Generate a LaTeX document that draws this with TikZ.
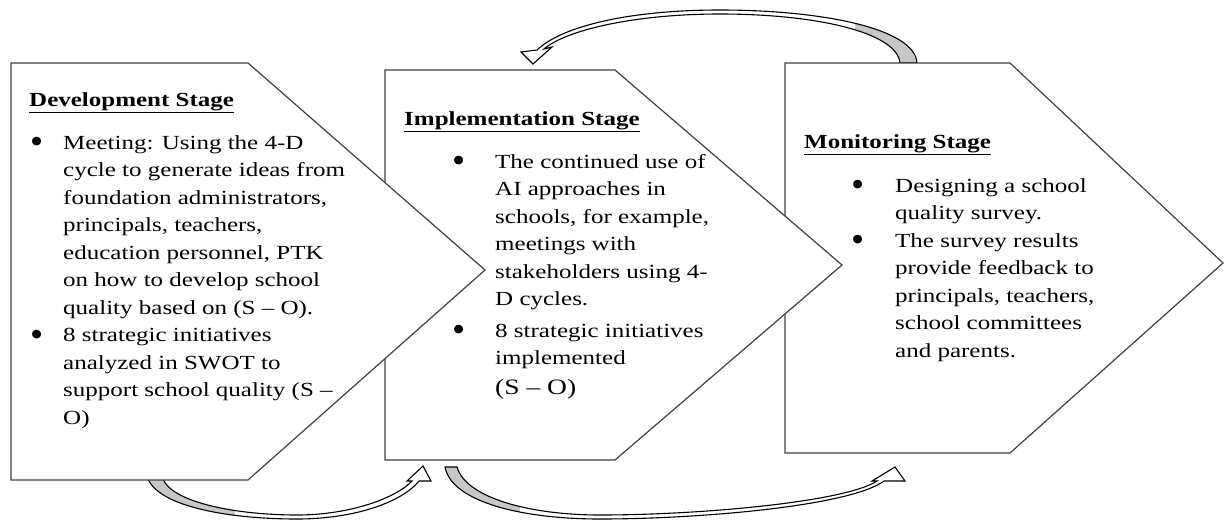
\documentclass[tikz,border=0pt]{standalone}
\usepackage{fontspec}
\setmainfont{Liberation Serif}[FakeStretch=1.25]
\newcommand{\stagedot}{\raisebox{-4.5pt}{\scalebox{1.5}[1.8]{\textbullet}}}

\begin{document}
\begin{tikzpicture}[x=1pt,y=-1pt,
  stage/.style={draw=black!75, line width=1.2pt, fill=white},
  band/.style={draw=black, line width=1.1pt},
  title/.style={anchor=base west, inner sep=0pt, font=\fontsize{20}{27.5}\selectfont\bfseries},
  list/.style={anchor=base west, inner sep=0pt, font=\fontsize{20}{27.5}\selectfont}]
 \useasboundingbox (0,0) rectangle (1225,520);

 % curved arrows: development -> implementation -> monitoring, and back
 \path[save path=\arrowdev] (148,479) .. controls (160,507) and (230,519) .. (297,519)
   .. controls (355,519) and (402,502) .. (419,481) -- (431,481) -- (423,466) -- (407,481) -- (412,481)
   .. controls (396,498) and (350,515) .. (297,515) .. controls (235,515) and (172,502) .. (163,479) -- cycle;
 \path[save path=\arrowimp] (445,467) .. controls (452,503) and (525,519) .. (600,519)
   .. controls (700,519) and (850,506) .. (884,481) -- (905,481) -- (895,467) -- (872,481) -- (877,481)
   .. controls (845,502) and (700,515) .. (600,515) .. controls (530,515) and (466,498) .. (457,467) -- cycle;
 \path[save path=\arrowmon] (917,63) .. controls (915,28) and (820,10) .. (720,10)
   .. controls (630,10) and (562,26) .. (537,50) -- (521,52) -- (533,64) -- (552,47) -- (544,49)
   .. controls (566,30) and (635,14) .. (720,14) .. controls (815,14) and (897,32) .. (900,63) -- cycle;

 \path[fill=white, use path=\arrowdev];
 \path[fill=white, use path=\arrowimp];
 \path[fill=white, use path=\arrowmon];
 \begin{scope}
  \clip (140,460) rectangle (235,525);
  \path[fill=black!22, use path=\arrowdev];
 \end{scope}
 \begin{scope}
  \clip (435,460) rectangle (520,525);
  \path[fill=black!22, use path=\arrowimp];
 \end{scope}
 \begin{scope}
  \clip (855,0) rectangle (925,70);
  \path[fill=black!22, use path=\arrowmon];
 \end{scope}
 \path[band, use path=\arrowdev];
 \path[band, use path=\arrowimp];
 \path[band, use path=\arrowmon];

 % stages, back to front
 \draw[stage] (785,63) -- (1010,63) -- (1223,263) -- (1010,453) -- (785,453) -- cycle;
 \draw[stage] (385,70) -- (615,70) -- (842,265) -- (615,460) -- (385,460) -- cycle;
 \draw[stage] (11,63) -- (248,63) -- (485,270) -- (248,480) -- (11,480) -- cycle;

 % development
 \node[title] (devtitle) at (29,106) {\underline{Development Stage}};
 \node[list] (devlist) at (30,149) {\begin{tabular}[t]{@{}p{33pt}@{}l@{}}
  \stagedot & Meeting: Using the 4-D\\
   & cycle to generate ideas from\\
   & foundation administrators,\\
   & principals, teachers,\\
   & education personnel, PTK\\
   & on how to develop school\\
   & quality based on (S -- O).\\
  \stagedot & 8 strategic initiatives\\
   & analyzed in SWOT to\\
   & support school quality (S --\\
   & O)
 \end{tabular}};

 % implementation
 \node[title] (imptitle) at (404,125) {\underline{Implementation Stage}};
 \node[list] (implist) at (452,168) {\begin{tabular}[t]{@{}p{43pt}@{}l@{}}
  \stagedot & The continued use of\\
   & AI approaches in\\
   & schools, for example,\\
   & meetings with\\
   & stakeholders using 4-\\
   & D cycles.\\[4pt]
  \stagedot & 8 strategic initiatives\\
   & implemented\\[2pt]
   & {\fontsize{22}{27.5}\selectfont (S -- O)}
 \end{tabular}};

 % monitoring
 \node[title] (montitle) at (804,148) {\underline{Monitoring Stage}};
 \node[list] (monlist) at (851,192) {\begin{tabular}[t]{@{}p{44pt}@{}l@{}}
  \stagedot & Designing a school\\
   & quality survey.\\
  \stagedot & The survey results\\
   & provide feedback to\\
   & principals, teachers,\\
   & school committees\\
   & and parents.
 \end{tabular}};
\end{tikzpicture}
\end{document}
